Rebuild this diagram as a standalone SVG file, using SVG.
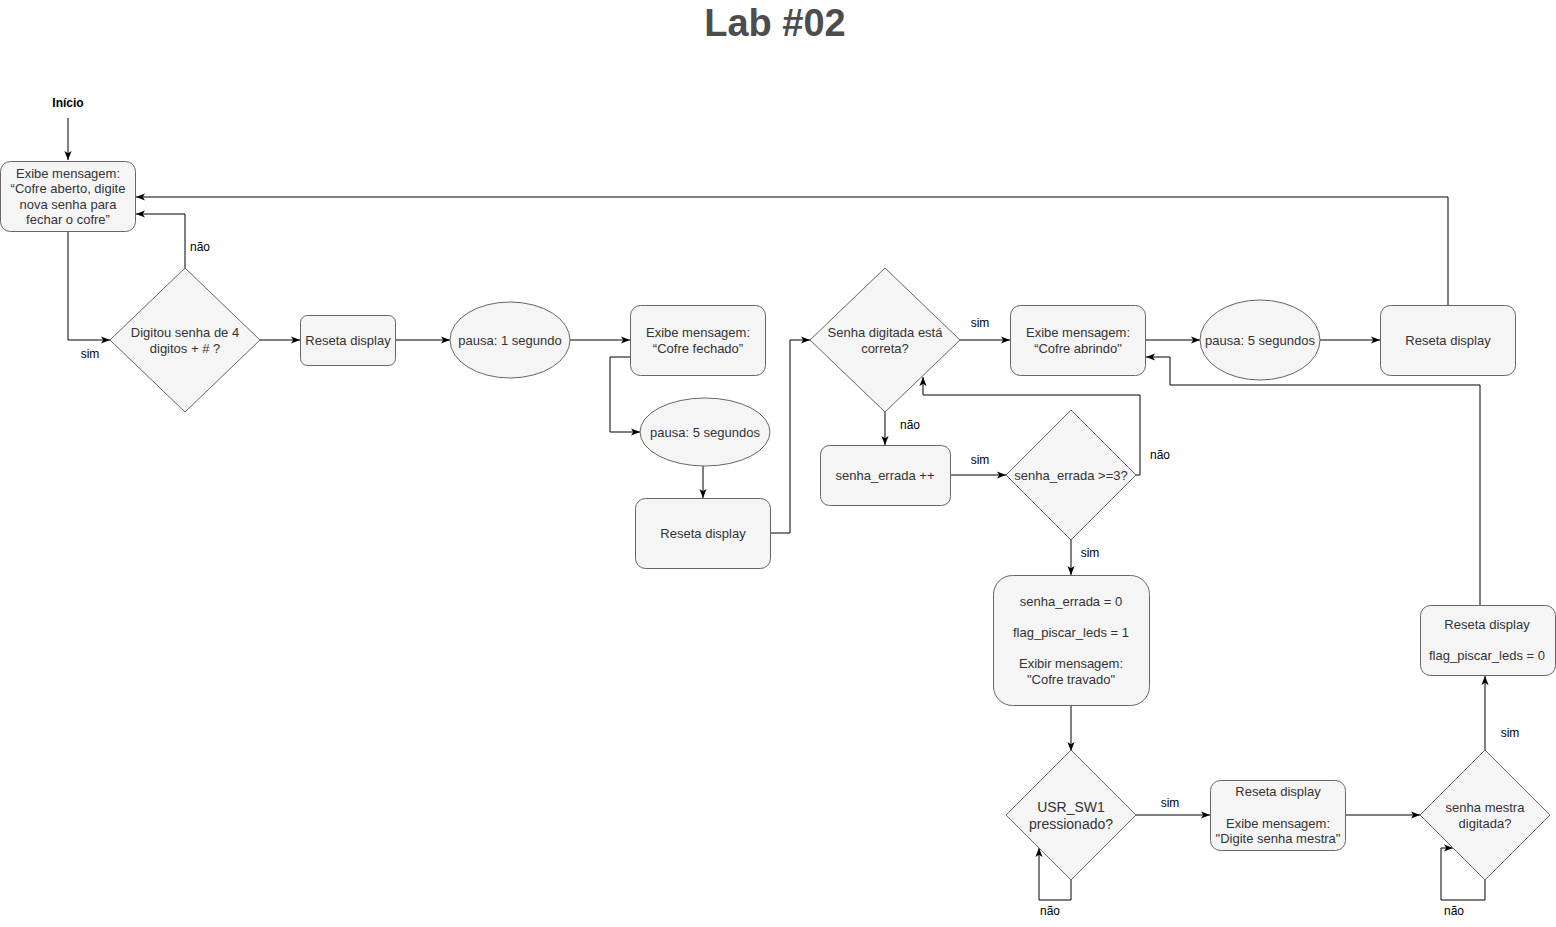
<svg xmlns="http://www.w3.org/2000/svg" width="1556" height="927" viewBox="0 0 1556 927">
<style>
.n{fill:#f5f5f5;stroke:#666666;stroke-width:1}
.t{font-family:"Liberation Sans",Arial,sans-serif;font-size:13px;fill:#333333;text-anchor:middle}
.t14{font-family:"Liberation Sans",Arial,sans-serif;font-size:14px;fill:#333333;text-anchor:middle}
.l{font-family:"Liberation Sans",Arial,sans-serif;font-size:12px;fill:#000000;text-anchor:middle}
.c{fill:none;stroke:#000000;stroke-width:1}
</style>
<defs>
<marker id="arr" viewBox="0 0 10 10" refX="10" refY="5" markerWidth="9" markerHeight="9" orient="auto" markerUnits="userSpaceOnUse">
<path d="M0,1 L10,5 L0,9 L2.5,5 z" fill="#000000"/>
</marker>
</defs>
<rect width="1556" height="927" fill="#ffffff"/>
<text x="775" y="36" font-family="Liberation Sans,Arial,sans-serif" font-size="38" font-weight="bold" fill="#4d4d4d" text-anchor="middle">Lab #02</text>
<g id="inicio"><text x="68" y="107" font-family="Liberation Sans,Arial,sans-serif" font-size="12" font-weight="bold" fill="#000000" text-anchor="middle">Início</text></g>

<g id="connectors">
<path class="c" d="M68,118 V160" marker-end="url(#arr)"/>
<path class="c" d="M68,231 V340 H110" marker-end="url(#arr)"/>
<path class="c" d="M185,268 V214 H136" marker-end="url(#arr)"/>
<path class="c" d="M260,340 H300" marker-end="url(#arr)"/>
<path class="c" d="M395,340 H450" marker-end="url(#arr)"/>
<path class="c" d="M570,340 H630" marker-end="url(#arr)"/>
<path class="c" d="M630,357 H610 V432 H640" marker-end="url(#arr)"/>
<path class="c" d="M703,466 V498" marker-end="url(#arr)"/>
<path class="c" d="M770,533 H790 V340 H810" marker-end="url(#arr)"/>
<path class="c" d="M960,340 H1010" marker-end="url(#arr)"/>
<path class="c" d="M885,412 V445" marker-end="url(#arr)"/>
<path class="c" d="M950,475 H1006" marker-end="url(#arr)"/>
<path class="c" d="M1136,475 H1140 V395 H923 V377" marker-end="url(#arr)"/>
<path class="c" d="M1071,540 V575" marker-end="url(#arr)"/>
<path class="c" d="M1071,705 V751" marker-end="url(#arr)"/>
<path class="c" d="M1071,880 V900 H1039 V848" marker-end="url(#arr)"/>
<path class="c" d="M1136,815 H1210" marker-end="url(#arr)"/>
<path class="c" d="M1345,815 H1420" marker-end="url(#arr)"/>
<path class="c" d="M1485,880 V900 H1441 V848 H1453" marker-end="url(#arr)"/>
<path class="c" d="M1485,750 V676" marker-end="url(#arr)"/>
<path class="c" d="M1480,605 V385 H1170 V357 H1146" marker-end="url(#arr)"/>
<path class="c" d="M1145,340 H1200" marker-end="url(#arr)"/>
<path class="c" d="M1320,340 H1380" marker-end="url(#arr)"/>
<path class="c" d="M1448,305 V197 H136" marker-end="url(#arr)"/>
<text class="l" x="90" y="358">sim</text>
<text class="l" x="200" y="251">não</text>
<text class="l" x="980" y="327">sim</text>
<text class="l" x="910" y="429">não</text>
<text class="l" x="980" y="464">sim</text>
<text class="l" x="1160" y="459">não</text>
<text class="l" x="1090" y="557">sim</text>
<text class="l" x="1050" y="915">não</text>
<text class="l" x="1170" y="807">sim</text>
<text class="l" x="1454" y="915">não</text>
<text class="l" x="1510" y="737">sim</text>
</g>

<g id="n_abertura">
<rect class="n" x="0.5" y="161.5" width="135" height="70" rx="10"/>
<text class="t" x="68" y="177.5">Exibe mensagem:</text>
<text class="t" x="68" y="193">“Cofre aberto, digite</text>
<text class="t" x="68" y="208.5">nova senha para</text>
<text class="t" x="68" y="224">fechar o cofre”</text>
</g>
<g id="d_digitou">
<polygon class="n" points="185,268 260,340 185,412 110,340"/>
<text class="t" x="185" y="336.5">Digitou senha de 4</text>
<text class="t" x="185" y="352.5">digitos + # ?</text>
</g>
<g id="n_reseta1">
<rect class="n" x="300.5" y="315.5" width="95" height="50" rx="7"/>
<text class="t" x="348" y="344.5">Reseta display</text>
</g>
<g id="n_pausa1">
<ellipse class="n" cx="510" cy="340" rx="60" ry="38"/>
<text class="t" x="510" y="344.5">pausa: 1 segundo</text>
</g>
<g id="n_fechado">
<rect class="n" x="630.5" y="305.5" width="135" height="70" rx="10"/>
<text class="t" x="698" y="336.5">Exibe mensagem:</text>
<text class="t" x="698" y="352.5">“Cofre fechado”</text>
</g>
<g id="n_pausa5a">
<ellipse class="n" cx="705" cy="432" rx="65" ry="34"/>
<text class="t" x="705" y="436.5">pausa: 5 segundos</text>
</g>
<g id="n_reseta2">
<rect class="n" x="635.5" y="498.5" width="135" height="70" rx="10"/>
<text class="t" x="703" y="537.5">Reseta display</text>
</g>
<g id="d_correta">
<polygon class="n" points="885,268 960,340 885,412 810,340"/>
<text class="t" x="885" y="336.5">Senha digitada está</text>
<text class="t" x="885" y="352.5">correta?</text>
</g>
<g id="n_abrindo">
<rect class="n" x="1010.5" y="305.5" width="135" height="70" rx="10"/>
<text class="t" x="1078" y="336.5">Exibe mensagem:</text>
<text class="t" x="1078" y="352.5">“Cofre abrindo"</text>
</g>
<g id="n_pausa5b">
<ellipse class="n" cx="1260" cy="340" rx="60" ry="40"/>
<text class="t" x="1260" y="344.5">pausa: 5 segundos</text>
</g>
<g id="n_reseta3">
<rect class="n" x="1380.5" y="305.5" width="135" height="70" rx="10"/>
<text class="t" x="1448" y="344.5">Reseta display</text>
</g>
<g id="n_errada">
<rect class="n" x="820.5" y="445.5" width="130" height="60" rx="9"/>
<text class="t" x="885" y="479.5">senha_errada ++</text>
</g>
<g id="d_errada3">
<polygon class="n" points="1071,410 1136,475 1071,540 1006,475"/>
<text class="t" x="1071" y="479.5">senha_errada &gt;=3?</text>
</g>
<g id="n_travado">
<rect class="n" x="993.5" y="575.5" width="156" height="130" rx="19"/>
<text class="t" x="1071" y="605.5">senha_errada = 0</text>
<text class="t" x="1071" y="636.5">flag_piscar_leds = 1</text>
<text class="t" x="1071" y="667.5">Exibir mensagem:</text>
<text class="t" x="1071" y="683.5">"Cofre travado"</text>
</g>
<g id="d_usr">
<polygon class="n" points="1071,750 1136,815 1071,880 1006,815"/>
<text class="t14" x="1071" y="812">USR_SW1</text>
<text class="t14" x="1071" y="829">pressionado?</text>
</g>
<g id="n_mestra">
<rect class="n" x="1210.5" y="780.5" width="135" height="70" rx="10"/>
<text class="t" x="1278" y="795.5">Reseta display</text>
<text class="t" x="1278" y="827.5">Exibe mensagem:</text>
<text class="t" x="1278" y="842.5">"Digite senha mestra"</text>
</g>
<g id="d_mestra">
<polygon class="n" points="1485,750 1550,815 1485,880 1420,815"/>
<text class="t" x="1485" y="811.5">senha mestra</text>
<text class="t" x="1485" y="827.5">digitada?</text>
</g>
<g id="n_reseta4">
<rect class="n" x="1420.5" y="605.5" width="135" height="70" rx="10"/>
<text class="t" x="1487" y="628.5">Reseta display</text>
<text class="t" x="1487" y="659.5">flag_piscar_leds = 0</text>
</g>
</svg>
